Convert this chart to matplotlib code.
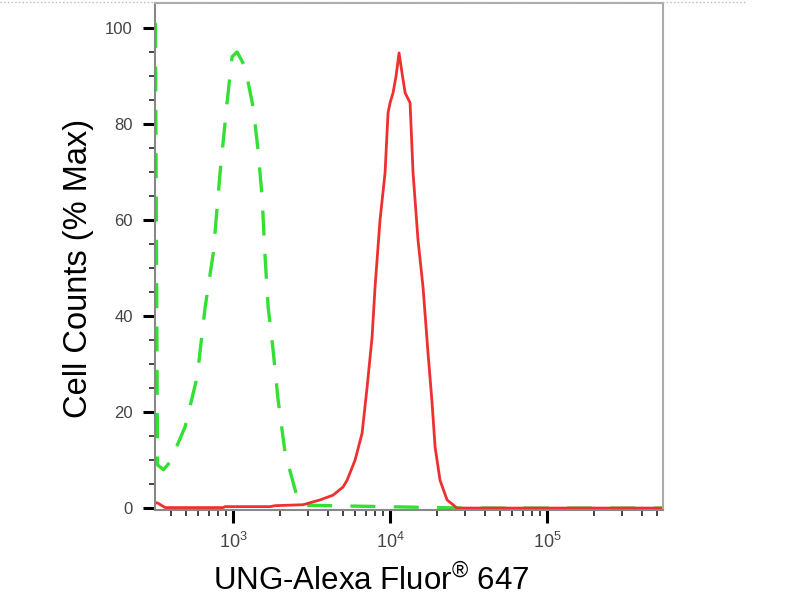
import matplotlib
matplotlib.use("Agg")
import matplotlib.pyplot as plt
from matplotlib.ticker import FixedLocator, NullFormatter

plt.rcParams['font.family'] = ['Liberation Sans', 'DejaVu Sans']
plt.rcParams['mathtext.fontset'] = 'custom'
plt.rcParams['mathtext.rm'] = 'Liberation Sans'

# green dashed histogram (control)
green_x = [320, 330, 360, 397, 494, 590, 664, 747, 826, 915, 985, 1060,
           1192, 1341, 1442, 1530, 1599, 1672, 1798, 1935, 2144, 2557,
           2793, 30000, 548000]
green_y = [101, 9, 8, 9.6, 16.9, 27.3, 41.9, 53, 69.8, 84.4, 94, 95,
           91.9, 83.5, 74.6, 64.8, 52.3, 41.9, 32.9, 22.5, 11.5, 2.3,
           0.6, 0, 0]

# red solid histogram (UNG stained)
red_x = [318, 333, 369, 864, 889, 1721, 1852, 2793, 3582, 4336, 5020,
         5324, 5985, 6634, 7141, 7680, 8021, 8630, 9290, 9706, 10000,
         10450, 10920, 11410, 11920, 12470, 13410, 14010, 15070, 16220,
         17450, 18520, 19360, 20810, 23070, 26710, 548000]
red_y = [1.2, 1.0, 0.1, 0.1, 0.3, 0.3, 0.5, 0.7, 1.7, 2.7, 4.4,
         5.8, 10, 15.6, 25.2, 35.6, 46, 60, 69.8, 82.3, 84.4,
         86.5, 90, 94.8, 90.6, 86.5, 84.4, 69.8, 55.8, 46,
         32.3, 21.9, 12.7, 5.8, 1.7, 0, 0]

y_ticks = [0, 20, 40, 60, 80, 100]
x_ticks = [1e3, 1e4, 1e5]
x_tick_labels = [r'$10^3$', r'$10^4$', r'$10^5$']

fig = plt.figure(figsize=(8, 6), dpi=100)
ax = fig.add_axes([155/800, 1 - 510/600, (663-155)/800, (510-3)/600])

ax.plot(green_x, green_y, color='#33e033', lw=2.4, linestyle=(0, (7.5, 5.5)))
ax.plot(red_x, red_y, color='#ee3030', lw=2.0, solid_joinstyle='round')

ax.set_xscale('log')
ax.set_xlim(318, 548000)
ax.set_ylim(-0.4, 105.2)

ax.xaxis.set_major_locator(FixedLocator(x_ticks))
ax.set_xticklabels(x_tick_labels)
minors = [m * 10**e for e in range(2, 6) for m in range(2, 10)]
ax.xaxis.set_minor_locator(FixedLocator(minors))
ax.xaxis.set_minor_formatter(NullFormatter())

ax.set_yticks(y_ticks)
ax.yaxis.set_minor_locator(FixedLocator(list(range(0, 105, 5))))

ax.tick_params(which='major', length=9, width=2.2, color='black',
               labelsize=12, labelcolor='#444444')
ax.tick_params(which='minor', length=4.5, width=1.2, color='#222222')
ax.tick_params(axis='x', which='major', pad=7, labelsize=13)
ax.tick_params(axis='y', which='major', pad=7)
for lab in ax.get_yticklabels():
    lab.set_family(['Liberation Sans Narrow', 'Liberation Sans'])

for side in ['left', 'bottom']:
    ax.spines[side].set_color('#888888')
    ax.spines[side].set_linewidth(1.5)
for side in ['top', 'right']:
    ax.spines[side].set_color('#aaaaaa')
    ax.spines[side].set_linewidth(1.5)

# dotted frame line at the very top of the picture
fig.add_artist(plt.Line2D([0, 745/800], [1 - 2/600, 1 - 2/600],
                          color='#bbbbbb', lw=1, linestyle=':'))

fig.text(79/800, 1 - 268/600, 'Cell Counts (% Max)', rotation=90,
         ha='center', va='center', fontsize=23.5)
fig.text(371/800, 1 - 590/600, r'UNG-Alexa Fluor$^{\mathrm{®}}$ 647',
         ha='center', va='baseline', fontsize=22.5)

fig.savefig('out.png', dpi=100)
